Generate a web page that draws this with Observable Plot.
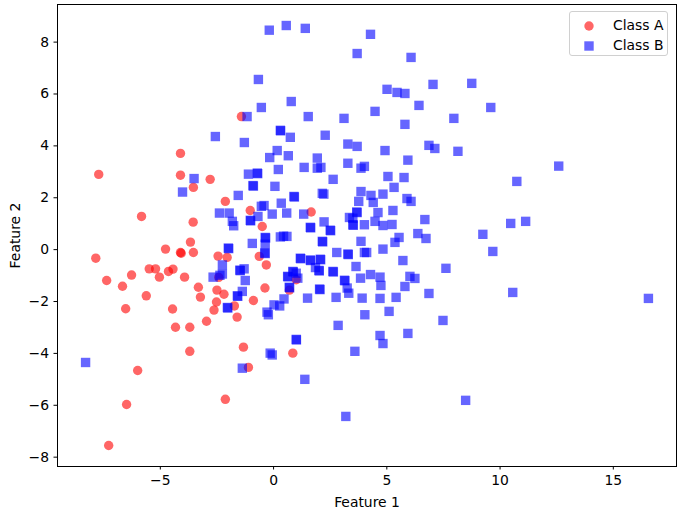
<!DOCTYPE html>
<html><head><meta charset="utf-8">
<script src="https://cdn.jsdelivr.net/npm/d3@7"></script>
<script src="https://cdn.jsdelivr.net/npm/@observablehq/plot@0.6"></script>
<style>
body{margin:0;background:#fff;}
#wrap{position:relative;width:680px;height:513px;font-family:"DejaVu Sans",sans-serif;}
#legend{position:absolute;left:569px;top:11px;width:99px;height:45px;border:1px solid #d0d0d0;border-radius:3px;background:rgba(255,255,255,0.8);box-sizing:border-box;font-size:13.9px;color:#000;}
.item{position:absolute;left:0;height:20px;line-height:20px;}
.item svg{position:absolute;left:13px;top:5px;}
.item span{position:absolute;left:43px;white-space:nowrap;}
</style>
</head><body><div id="wrap"></div>
<script>
const classA = [
[-7.72,2.90],[-7.85,-0.33],[-7.37,-1.19],[-6.67,-1.41],[-6.53,-2.28],[-6.27,-0.98],[-5.83,1.28],[-5.62,-1.78],
[-5.49,-0.74],[-5.21,-0.74],[-5.04,-1.06],[-4.77,0.02],[-4.64,-0.84],[-4.44,-0.75],[-4.46,-2.29],[-4.33,-2.99],
[-4.11,3.71],[-4.11,2.87],[-4.11,-0.11],[-4.08,-0.14],[-3.93,-1.06],[-3.70,-2.99],[-3.70,-3.92],[-3.67,0.29],
[-3.55,1.06],[-3.54,-0.11],[-3.54,2.40],[-3.32,-1.45],[-3.23,-1.83],[-2.96,-2.76],[-2.80,2.71],[-2.50,-1.56],
[-2.19,-1.72],[-2.52,-2.02],[-2.63,-2.33],[-2.45,-0.25],[-2.05,-0.30],[-2.13,1.86],[-2.13,-5.77],[-2.42,-1.07],
[-1.73,-2.17],[-1.61,-2.60],[-1.42,5.13],[-1.33,-3.76],[-1.11,-4.54],[-1.03,1.51],[-0.89,-1.96],[-0.63,-0.26],
[-0.50,0.89],[-0.32,-0.59],[-0.38,-1.48],[0.85,-3.99],[1.00,-1.16],[1.66,1.45],[-6.00,-4.66],[-6.49,-5.97],
[-7.28,-7.55],[0.70,-1.56]
];
const classB = [
[-0.19,8.46],[0.56,8.64],[1.40,8.53],[4.28,8.30],[3.69,7.56],[-0.67,6.56],[-0.54,5.48],[0.78,5.71],[-1.17,5.13],
[1.53,5.13],[3.11,5.06],[0.30,4.60],[0.31,4.58],[0.74,4.33],[2.28,4.41],[-2.57,4.36],[-1.29,4.13],[0.16,3.82],
[3.28,4.07],[3.69,3.98],[-0.17,3.55],[0.65,3.62],[1.93,3.53],
[6.07,7.41],[5.01,6.18],[5.45,6.06],[5.80,6.02],[7.04,6.37],[8.75,6.41],[4.48,5.33],[6.42,5.56],[9.59,5.48],
[5.80,4.83],[7.96,5.06],[4.92,3.82],[6.86,4.02],[7.12,3.90],[8.14,3.79],[5.93,3.45],
[4.01,3.21],[3.86,3.14],[5.05,2.82],[5.76,2.78],[5.32,2.40],[10.74,2.63],[4.30,2.09],[4.83,2.14],[5.89,1.97],
[6.07,1.86],[4.40,1.82],[4.61,1.43],[5.27,1.51],[6.68,1.16],[4.48,1.09],[4.83,0.93],[5.23,0.97],[10.47,1.01],
[11.13,1.09],[6.37,0.62],[6.73,0.43],[5.54,0.47],[5.36,0.28],[9.24,0.59],[9.68,-0.07],[4.83,0.02],[4.11,-0.11],
[5.71,-0.42],[7.61,-0.72],[4.28,-0.96],[4.70,-1.06],[6.02,-1.03],[6.24,-1.11],[4.74,-1.38],[5.80,-1.42],
[6.86,-1.69],[10.56,-1.65],[4.70,-1.88],[5.41,-1.84],[5.10,-2.38],[12.59,3.22],[16.55,-1.88],
[7.48,-2.73],[4.70,-3.31],[4.83,-3.62],[5.93,-3.23],[8.48,-5.81],[4.03,-2.51],
[-0.23,-2.51],[1.00,-3.46],[1.01,-3.48],[-0.15,-3.99],[-0.06,-4.06],[-1.38,-4.57],[1.38,-5.00],[2.85,-2.92],
[3.59,-3.92],[3.19,-6.43],[-8.30,-4.35],
[-3.51,2.74],[-4.02,2.22],[-2.67,-1.06],
[1.35,3.17],[1.93,3.14],[2.09,3.17],[3.28,3.33],[-1.11,2.91],[-0.72,2.95],[-0.70,2.93],[0.21,3.09],[2.63,2.71],
[-0.91,2.47],[-0.89,2.45],[0.06,2.44],[2.15,2.17],[2.22,2.14],[3.86,2.24],[-1.56,2.09],[0.90,2.05],[0.92,2.03],
[3.76,1.86],[-2.39,1.41],[-1.96,1.41],[-0.54,1.67],[-0.42,1.70],[-0.69,1.28],[-0.06,1.37],[0.34,1.79],[0.58,1.41],
[1.33,1.37],[-1.03,1.13],[-1.01,1.11],[-1.82,1.09],[-1.76,0.92],[2.23,1.07],[3.67,1.45],[3.69,1.43],[3.35,1.24],
[3.50,1.21],[3.50,0.96],[3.52,0.94],[4.01,0.96],[1.62,0.86],[1.64,0.84],[2.50,0.75],[2.52,0.73],[0.30,0.49],
[0.44,0.52],[0.59,0.51],[-0.37,0.47],[-0.35,0.45],[2.15,0.32],[2.17,0.30],[-0.94,0.24],[-0.37,0.21],[3.86,0.32],
[-2.00,0.06],[-1.98,0.04],[-0.39,-0.13],[-0.37,-0.15],[2.79,-0.11],[3.28,-0.17],[3.30,-0.19],[4.01,-0.11],
[-2.26,-0.59],[1.18,-0.33],[1.20,-0.35],[1.62,-0.40],[1.64,-0.42],[2.06,-0.37],[2.08,-0.39],[1.85,-0.69],
[2.00,-0.80],[2.02,-0.82],[3.64,-0.65],[2.62,-0.84],[2.64,-0.86],[-2.37,-0.99],[-2.26,-0.94],[-1.49,-0.79],
[-1.47,-0.81],[-1.30,-0.74],[-1.25,-1.19],[0.85,-0.84],[0.87,-0.86],[1.00,-0.91],[0.62,-1.03],[0.64,-1.05],
[1.07,-1.10],[3.13,-1.18],[3.15,-1.20],[3.84,-1.10],[0.69,-1.45],[0.71,-1.47],[2.03,-1.52],[2.05,-1.54],
[3.25,-1.48],[3.32,-1.68],[-1.38,-1.61],[-1.60,-1.78],[-1.58,-1.80],[3.91,-1.87],[2.76,-1.84],[1.50,-1.87],
[0.46,-1.90],[-2.04,-2.23],[-2.02,-2.25],[0.02,-2.13],[0.27,-2.17],[-0.29,-2.41]
];
const seriesNames = ["Class A", "Class B"];
const xTicks = [-5, 0, 5, 10, 15];
const yTicks = [-8, -6, -4, -2, 0, 2, 4, 6, 8];
const xLabel = "Feature 1";
const yLabel = "Feature 2";

const chart = Plot.plot({
  width: 680, height: 513,
  marginLeft: 57, marginRight: 4, marginTop: 4, marginBottom: 47,
  style: {fontFamily: "DejaVu Sans, sans-serif", fontSize: "13.9px", color: "#000", background: "#fff"},
  x: {domain: [-9.54, 17.79]},
  y: {domain: [-8.36, 9.45]},
  marks: [
    Plot.dot(classA, {x: d => d[0], y: d => d[1], r: 4.7, fill: "red", fillOpacity: 0.6, stroke: "none"}),
    Plot.dot(classB, {x: d => d[0], y: d => d[1], r: 5.3, symbol: "square", fill: "blue", fillOpacity: 0.6, stroke: "none"}),
    Plot.frame({stroke: "#000", strokeWidth: 1}),
    Plot.axisX({ticks: xTicks, tickSize: 3.5, tickPadding: 5, tickFormat: d3.format("d"), label: xLabel, labelAnchor: "center", labelArrow: "none", labelOffset: 40, fontSize: "13.9px"}),
    Plot.axisY({ticks: yTicks, tickSize: 3.5, tickPadding: 5, tickFormat: d3.format("d"), label: yLabel, labelAnchor: "center", labelArrow: "none", labelOffset: 47, fontSize: "13.9px"})
  ]
});
const wrap = document.getElementById("wrap");
wrap.appendChild(chart);

const legend = document.createElement("div");
legend.id = "legend";
legend.innerHTML =
  `<div class="item" style="top:3px;width:100%"><svg width="12" height="12"><circle cx="6" cy="6" r="4.7" fill="red" fill-opacity="0.6"/></svg><span>${seriesNames[0]}</span></div>` +
  `<div class="item" style="top:23px;width:100%"><svg width="12" height="12"><rect x="1.3" y="1.3" width="9.4" height="9.4" fill="blue" fill-opacity="0.6"/></svg><span>${seriesNames[1]}</span></div>`;
wrap.appendChild(legend);
</script>
</body></html>
